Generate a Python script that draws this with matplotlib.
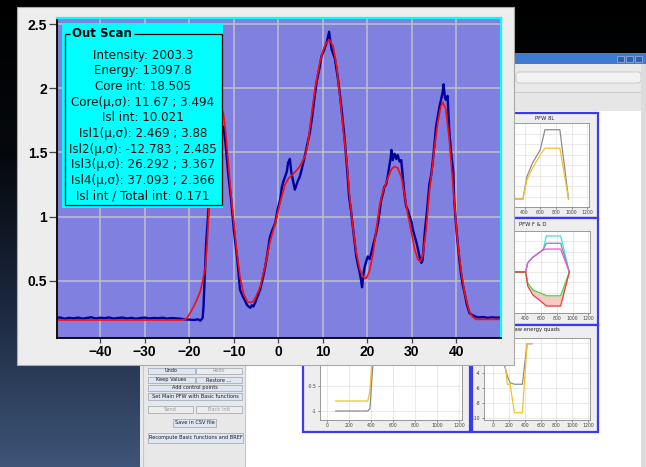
import numpy as np
import matplotlib.pyplot as plt
from matplotlib.colors import LinearSegmentedColormap
from matplotlib.patches import Rectangle, FancyBboxPatch

W, H = 646, 467  # picture size in pixels

# ---- main scan: blue = measured profile, red = fitted model ----
scan_x = [-50, -49, -48, -47, -46, -45, -44, -43, -42, -41, -40, -39, -38, -37, -36,
          -35, -34, -33, -32, -31, -30, -29, -28, -27, -26, -25, -24, -23, -22, -21,
          -20, -19, -18, -17.5, -17, -16.8, -16.5, -16.2, -15.8, -15.3, -14.5, -13.5,
          -12.8, -12.3, -11.8, -11.3, -10.6, -10, -9.2, -8.6, -8, -7.4, -7, -6.3, -5.9,
          -5.6, -5.2, -4.7, -4.1, -3.6, -3, -2.5, -1.9, -1.3, -0.7, -0.2, 0.4, 0.8, 1.1,
          1.5, 1.9, 2.2, 2.6, 2.9, 3.3, 3.7, 4.0, 4.4, 4.8, 5.2, 5.6, 6.0, 6.5, 7.1,
          7.6, 8.1, 8.6, 9.2, 9.7, 10.3, 10.9, 11.4, 11.7, 12.0, 12.4, 12.7, 13.0, 13.4,
          13.8, 14.2, 14.6, 14.9, 15.4, 15.9, 16.3, 16.8, 17.2, 17.5, 17.9, 18.3, 18.6,
          18.8, 19.1, 19.4, 19.8, 20.1, 20.5, 20.9, 21.3, 21.6, 22.0, 22.4, 22.8, 23.1,
          23.5, 23.8, 24.2, 24.6, 24.9, 25.2, 25.4, 25.7, 26.1, 26.5, 26.8, 27.2, 27.6,
          27.9, 28.3, 28.7, 29.1, 29.5, 29.9, 30.2, 30.6, 31.0, 31.4, 31.7, 32.1, 32.4,
          32.7, 33.0, 33.4, 33.9, 34.3, 34.7, 35.1, 35.4, 35.8, 36.2, 36.6, 36.9, 37.1,
          37.4, 37.6, 38.0, 38.2, 38.4, 38.8, 39.3, 39.5, 39.8, 40.2, 40.6, 41.0, 41.4,
          41.8, 42.3, 42.9, 43.5, 44.4, 45, 46, 47, 48, 49, 50]
scan_y = [0.21, 0.215, 0.205, 0.212, 0.208, 0.214, 0.206, 0.211, 0.216, 0.207, 0.213,
          0.209, 0.215, 0.206, 0.211, 0.214, 0.207, 0.212, 0.205, 0.21, 0.214, 0.207,
          0.211, 0.209, 0.213, 0.206, 0.21, 0.208, 0.205, 0.2, 0.198, 0.195, 0.2, 0.19,
          0.21, 0.3, 0.55, 0.8, 1.0, 1.25, 1.5, 1.65, 1.7, 1.7, 1.55, 1.35, 1.13, 0.9,
          0.66, 0.43, 0.38, 0.34, 0.31, 0.29, 0.31, 0.30, 0.33, 0.375, 0.43, 0.5, 0.6,
          0.7, 0.84, 0.9, 0.95, 1.05, 1.13, 1.23, 1.27, 1.31, 1.35, 1.42, 1.45, 1.35,
          1.28, 1.21, 1.24, 1.28, 1.31, 1.36, 1.42, 1.48, 1.56, 1.66, 1.78, 1.92, 2.05,
          2.15, 2.25, 2.3, 2.36, 2.44, 2.36, 2.3, 2.26, 2.23, 2.16, 2.07, 1.96, 1.84,
          1.7, 1.6, 1.39, 1.15, 1.05, 0.9, 0.78, 0.69, 0.62, 0.56, 0.5, 0.45, 0.55, 0.61,
          0.66, 0.69, 0.67, 0.72, 0.78, 0.82, 0.88, 0.95, 1.05, 1.13, 1.18, 1.23, 1.25,
          1.32, 1.39, 1.45, 1.52, 1.44, 1.49, 1.45, 1.48, 1.43, 1.44, 1.33, 1.18, 1.08,
          1.05, 1.0, 0.96, 0.9, 0.85, 0.8, 0.74, 0.69, 0.64, 0.66, 0.8, 0.92, 1.05, 1.25,
          1.32, 1.44, 1.58, 1.7, 1.78, 1.86, 1.92, 1.97, 2.03, 1.93, 1.91, 1.94, 1.8,
          1.66, 1.5, 1.34, 1.13, 0.98, 0.82, 0.68, 0.56, 0.47, 0.41, 0.32, 0.25, 0.235,
          0.22, 0.215, 0.218, 0.212, 0.216, 0.213, 0.215]

fit_x = [-50, -22, -21, -20.5, -19.8, -19, -18.2, -17.5, -17, -16.4, -16, -15.7, -15.2,
         -14.5, -13.5, -12.8, -12.3, -11.8, -11.3, -10.7, -10, -9.3, -8.6, -7.8, -7,
         -6.3, -5.6, -5, -4.1, -3, -1.9, -0.7, 0.4, 1.5, 2.3, 3.3, 4.8, 6.0, 6.6, 7.1,
         8.2, 9.3, 10.4, 11.4, 12.3, 13.1, 13.8, 14.5, 15.4, 16.0, 16.8, 17.5, 18.3,
         19.0, 19.8, 20.5, 21.3, 22.0, 22.7, 23.5, 24.5, 25.4, 26.1, 26.8, 27.6, 28.3,
         29.0, 29.9, 30.6, 31.3, 31.8, 32.4, 33.2, 33.9, 34.3, 35.0, 35.8, 36.5, 36.9,
         37.6, 38.4, 39.1, 39.5, 40.2, 41.0, 41.8, 42.9, 43.6, 44.4, 50]
fit_y = [0.195, 0.195, 0.2, 0.21, 0.25, 0.3, 0.36, 0.42, 0.5, 0.6, 0.78, 0.98, 1.3,
         1.6, 1.8, 1.85, 1.8, 1.65, 1.45, 1.2, 0.95, 0.72, 0.53, 0.4, 0.34, 0.33, 0.34,
         0.38, 0.45, 0.61, 0.8, 0.95, 1.11, 1.25, 1.3, 1.33, 1.39, 1.47, 1.56, 1.7,
         1.99, 2.2, 2.33, 2.38, 2.33, 2.17, 1.94, 1.7, 1.42, 1.16, 0.9, 0.72, 0.59,
         0.53, 0.52, 0.58, 0.72, 0.9, 1.08, 1.2, 1.29, 1.37, 1.39, 1.38, 1.31, 1.18,
         1.03, 0.875, 0.75, 0.67, 0.65, 0.69, 0.9, 1.19, 1.3, 1.52, 1.73, 1.86, 1.89,
         1.84, 1.6, 1.29, 1.13, 0.82, 0.59, 0.41, 0.26, 0.22, 0.2, 0.2]

x_ticks = [-40, -30, -20, -10, 0, 10, 20, 30, 40]
x_ticklabels = ['\u221240', '\u221230', '\u221220', '\u221210', '0', '10', '20', '30', '40']
y_ticks = [0.5, 1, 1.5, 2, 2.5]
y_ticklabels = ['0.5', '1', '1.5', '2', '2.5']

stats_title = 'Out Scan'
stats_lines = [
    'Intensity: 2003.3',
    'Energy: 13097.8',
    'Core int: 18.505',
    'Core(\u03bc,\u03c3): 11.67 ; 3.494',
    'Isl int: 10.021',
    'Isl1(\u03bc,\u03c3): 2.469 ; 3.88',
    'Isl2(\u03bc,\u03c3): -12.783 ; 2.485',
    'Isl3(\u03bc,\u03c3): 26.292 ; 3.367',
    'Isl4(\u03bc,\u03c3): 37.093 ; 2.366',
    'Isl int / Total int: 0.171',
]

# ---- small charts of the application behind ----
pfw8l_x = [0, 380, 430, 500, 600, 660, 850, 960]
pfw8l_grey = [0.095, 0.095, 0.36, 0.52, 0.68, 0.92, 0.92, 0.095]
pfw8l_yellow = [0.095, 0.095, 0.32, 0.46, 0.62, 0.70, 0.70, 0.095]

fd_x = [0, 410, 435, 500, 630, 670, 850, 960]
fd_cyan = [0.5, 0.5, 0.61, 0.68, 0.77, 0.94, 0.94, 0.5]
fd_grey = [0.5, 0.5, 0.61, 0.68, 0.77, 0.85, 0.85, 0.5]
fd_magenta = [0.5, 0.5, 0.61, 0.68, 0.77, 0.78, 0.78, 0.5]
fd_green = [0.5, 0.5, 0.37, 0.28, 0.23, 0.21, 0.21, 0.5]
fd_red = [0.5, 0.5, 0.33, 0.22, 0.12, 0.085, 0.085, 0.5]

quad_x = [0, 100, 150, 180, 215, 270, 370, 430, 490]
quad_grey = [-1, -2, -3.2, -4.4, -5.3, -5.5, -5.5, -0.1, -0.1]
quad_yellow = [-1, -2, -2.7, -5.5, -5.5, -9.3, -9.3, -0.1, -0.1]

low_x = [80, 370, 390, 410, 440]
low_grey = [-1, -1, -0.95, -0.3, 0.6]
low_yellow = [-0.8, -0.8, -0.6, 0.1, 0.6]

buttons = [
    ('Undo', 148, 368, 195, 374, True), ('Redo', 196, 368, 242, 374, False),
    ('Keep Values', 148, 377, 195, 383, True), ('Restore ...', 196, 377, 242, 383, True),
    ('Add control points', 148, 385, 242, 391, True),
    ('Set Main PFW with Basic functions', 148, 393, 242, 400, True),
    ('Send', 148, 406, 193, 413, False), ('Back Init', 196, 406, 242, 413, False),
    ('Save in CSV file', 173, 419, 216, 427, True),
    ('Recompute Basic functions and BREF', 148, 433, 243, 443, True),
]


def fr(x0, y0, x1, y1):
    """pixel box (origin top-left) -> figure fraction [l, b, w, h]"""
    return [x0 / W, 1 - y1 / H, (x1 - x0) / W, (y1 - y0) / H]


def pixel_axes(z):
    a = fig.add_axes([0, 0, 1, 1], zorder=z)
    a.set_xlim(0, W)
    a.set_ylim(H, 0)
    a.axis('off')
    a.patch.set_visible(False)
    return a


def box(a, x0, y0, x1, y1, fc, ec='none', lw=0.0):
    a.add_patch(Rectangle((x0, y0), x1 - x0, y1 - y0, facecolor=fc,
                          edgecolor=ec, linewidth=lw))


def mini(pbox, xlim, ylim, yticks, ylabels=None):
    m = fig.add_axes(fr(*pbox), zorder=-6)
    m.set_facecolor('white')
    m.set_xlim(*xlim)
    m.set_ylim(*ylim)
    m.set_xticks([0, 200, 400, 600, 800, 1000, 1200])
    m.set_yticks(yticks)
    if ylabels is None:
        m.set_yticklabels([])
    else:
        m.set_yticklabels(ylabels)
    m.grid(color='#e2e2e2', lw=0.5)
    m.set_axisbelow(True)
    m.tick_params(labelsize=3.3, length=1.5, width=0.4, pad=1, colors='#444')
    for s in m.spines.values():
        s.set_color('#8a8a8a')
        s.set_linewidth(0.6)
    return m


fig = plt.figure(figsize=(W / 100, H / 100), dpi=100)

# ---- desktop + application window behind ----
bg = fig.add_axes([0, 0, 1, 1], zorder=-10)
desk = LinearSegmentedColormap.from_list('desk', ['#000000', '#05080d', '#1c2940', '#3e5578'])
bg.imshow(np.linspace(0, 1, 256)[:, None], cmap=desk, extent=(0, W, H, 0), aspect='auto')
bg.set_xlim(0, W)
bg.set_ylim(H, 0)
bg.axis('off')

box(bg, 140, 53, W, H, '#e9e9e9')
box(bg, 140, 53, W, 64, '#3d7cd2')
for bx in [617, 626, 635]:
    box(bg, bx, 56, bx + 7, 62, '#2f62ad', '#9db8e0', 0.5)
bg.add_patch(FancyBboxPatch((516, 72), 125, 11, boxstyle='round,pad=0,rounding_size=3',
                            facecolor='#f2f2f2', edgecolor='#c4c4c4', linewidth=0.6))
box(bg, 514, 92, 643, 111, '#e6e6e6', '#c8c8c8', 0.6)
box(bg, 245, 111, 641, H, 'white')
box(bg, 641, 64, W, H, '#dcdcdc')
box(bg, 143, 100, 245, H, '#e8e8e8', '#c6c6c6', 0.8)

for label, x0, y0, x1, y1, on in buttons:
    box(bg, x0, y0, x1, y1, '#dde6f2' if on else '#ececec', '#98a2ae', 0.5)
    bg.text((x0 + x1) / 2, (y0 + y1) / 2, label, fontsize=3.6, ha='center', va='center',
            color='#1a1a1a' if on else '#9a9a9a')

# panels with blue frames
for x0, y0, x1, y1 in [(303, 325, 470, 432), (472, 113, 598, 218),
                       (472, 218, 598, 325), (472, 325, 598, 432)]:
    box(bg, x0, y0, x1, y1, '#eeeeee', '#3a3af0', 1.6)
bg.text(545, 118, 'PFW 8L', fontsize=3.8, ha='center', va='center', color='#222')
bg.text(533, 224, 'PFW F & D', fontsize=3.8, ha='center', va='center', color='#222')
bg.text(511, 330, 'Raw energy quads', fontsize=3.8, ha='left', va='center', color='#222')

m = mini((484, 123, 589, 207), (-115, 1220), (0, 1), [0.125, 0.25, 0.375, 0.5, 0.625, 0.75, 0.875])
m.plot(pfw8l_x, pfw8l_grey, color='#8c8c8c', lw=0.9)
m.plot(pfw8l_x, pfw8l_yellow, color='#f2c12e', lw=0.9)

m = mini((484, 231, 590, 313), (-115, 1220), (0, 1), [0.125, 0.25, 0.375, 0.5, 0.625, 0.75, 0.875])
m.fill_between(fd_x, fd_red, fd_green, color='#f6c8c8', lw=0)
for ys, c in [(fd_cyan, '#33e6f0'), (fd_grey, '#8c8c8c'), (fd_magenta, '#f050e6'),
              (fd_green, '#3ddc3d'), (fd_red, '#f03c3c')]:
    m.plot(fd_x, ys, color=c, lw=0.9)

m = mini((484, 338, 590, 420), (-115, 1225), (-10.27, 0.67), [-10, -8, -6, -4, -2, 0],
         ['-10', '-8', '-6', '-4', '-2', '0'])
m.plot(quad_x, quad_grey, color='#8c8c8c', lw=0.9)
m.plot(quad_x, quad_yellow, color='#f2c12e', lw=0.9)

m = mini((320, 338, 462, 420), (-64, 1227), (-1.18, 0.46), [-1, -0.5, 0], ['-1', '-0.5', '0'])
m.plot(low_x, low_yellow, color='#f2c12e', lw=0.9)
m.plot(low_x, low_grey, color='#8c8c8c', lw=0.9)

# ---- scan window ----
win = pixel_axes(-3)
box(win, 17, 7, 514, 365, '#ededed', '#a9a9a9', 0.8)

ax = fig.add_axes(fr(57, 18, 501, 337.6), zorder=0)
ax.set_facecolor('#8080e0')
ax.plot(scan_x, scan_y, color='#00009a', lw=1.7)
ax.plot(fit_x, fit_y, color='#ff0a0a', lw=1.2)
ax.set_xlim(-49.7, 50)
ax.set_ylim(0.058, 2.547)
ax.set_xticks(x_ticks)
ax.set_xticklabels(x_ticklabels)
ax.set_yticks(y_ticks)
ax.set_yticklabels(y_ticklabels)
ax.grid(color='#bfbfcc', lw=1.1)
ax.set_axisbelow(True)
for s in ['top', 'right']:
    ax.spines[s].set_color('#00ffff')
    ax.spines[s].set_linewidth(1.6)
for s in ['left', 'bottom']:
    ax.spines[s].set_color('black')
    ax.spines[s].set_linewidth(1.3)
ax.tick_params(axis='x', length=3.6, width=0.9, pad=2, colors='#444', labelcolor='black')
ax.tick_params(axis='y', length=6, width=0.9, pad=1, colors='#444', labelcolor='black')
for t in ax.get_xticklabels() + ax.get_yticklabels():
    t.set_fontfamily(['Liberation Sans', 'DejaVu Sans'])
    t.set_fontweight('bold')
    t.set_fontsize(10)

# ---- "Out Scan" statistics box drawn over the plot ----
ov = pixel_axes(5)
box(ov, 62, 24, 223, 207.5, '#00ffff')
for xs, ys in [([64.5, 70], [33.5, 33.5]), ([134, 221.5], [33.5, 33.5]),
               ([64.5, 64.5], [33.5, 205]), ([221.5, 221.5], [33.5, 205]),
               ([64.5, 221.5], [205, 205])]:
    ov.plot(xs, ys, color='black', lw=0.9, solid_capstyle='butt')
ov.text(71.5, 33.5, stats_title, fontsize=8.5, fontweight='bold', ha='left', va='center')
for i, line in enumerate(stats_lines):
    ov.text(143, 55 + i * 15.67, line, fontsize=8.6, ha='center', va='center', color='#111')

fig.savefig('out.png', dpi=100)
